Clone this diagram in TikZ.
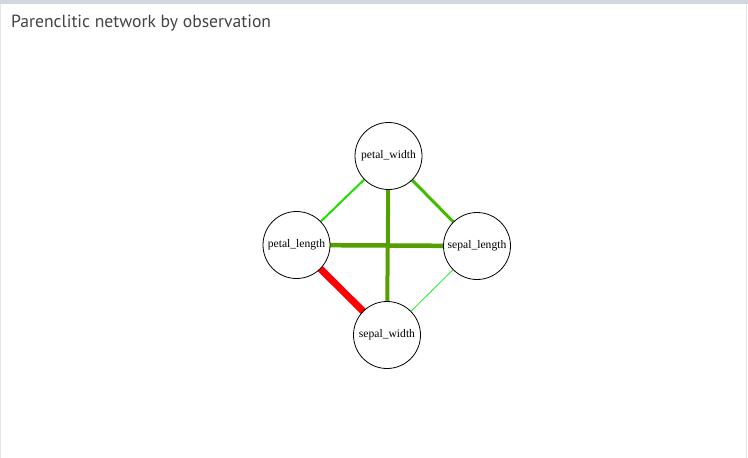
\documentclass[tikz,border=0pt]{standalone}
\usepackage{fontspec}
\setmainfont{Liberation Serif}
\newfontfamily\titlefont{PT Sans}
\definecolor{barcol}{HTML}{D2D6DE}
\definecolor{sidecol}{HTML}{E3E5E8}
\definecolor{titlecol}{HTML}{444444}
\definecolor{lgreen}{HTML}{22DD00}
\definecolor{mgreen}{HTML}{44BB00}
\definecolor{ogreen}{HTML}{55A000}
\definecolor{tgreen}{HTML}{22EE22}
\begin{document}
\begin{tikzpicture}[x=1pt,y=-1pt,
  var/.style={circle,draw=black,line width=0.8pt,fill=white,minimum size=67pt,inner sep=0pt,font=\fontsize{11.6}{13}\selectfont},
  link/.style={line cap=butt}]
\useasboundingbox (0,0) rectangle (748,458);
\fill[white] (0,0) rectangle (748,458);
\fill[barcol] (0,0) rectangle (748,4);
\draw[sidecol,line width=1pt] (0.5,4) -- (0.5,458);
\draw[sidecol,line width=1.5pt] (746.5,4) -- (746.5,458);
\node[anchor=base west,inner sep=0pt,text=titlecol,font=\titlefont\fontsize{17.6}{20}\selectfont] (title) at (11,27.5) {Parenclitic network by observation};
\coordinate (pw) at (388.5,156);
\coordinate (pl) at (296.5,245);
\coordinate (sl) at (477,246);
\coordinate (sw) at (387,335);
\draw[link,lgreen,line width=2pt] (pw) -- (pl);
\draw[link,mgreen,line width=3pt] (pw) -- (sl);
\draw[link,ogreen,line width=4pt] (pw) -- (sw);
\draw[link,ogreen,line width=4.5pt] (pl) -- (sl);
\draw[link,red,line width=7pt] (pl) -- (sw);
\draw[link,tgreen,line width=0.8pt] (sl) -- (sw);
\node[var] (npw) at (pw) {petal\_width};
\node[var] (npl) at (pl) {petal\_length};
\node[var] (nsl) at (sl) {sepal\_length};
\node[var] (nsw) at (sw) {sepal\_width};
\end{tikzpicture}
\end{document}
